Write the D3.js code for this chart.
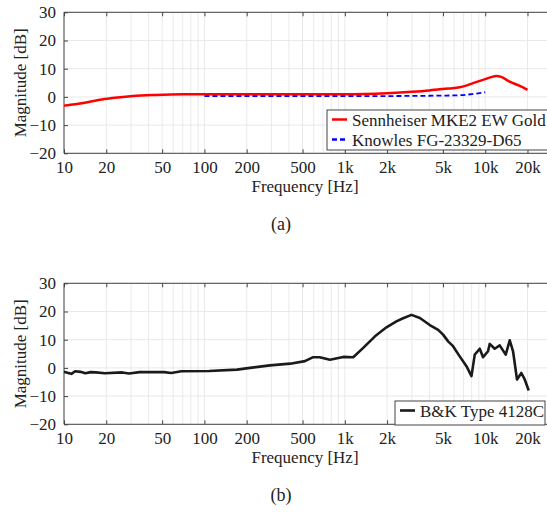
<!DOCTYPE html>
<html>
<head>
<meta charset="utf-8">
<script src="https://cdn.jsdelivr.net/npm/d3@7"></script>
<style>
  body { margin: 0; background: #fff; }
</style>
</head>
<body>
<div id="chart"></div>
<script>
// data
var senFreq = [10, 12, 15, 18, 22, 31, 45, 70, 100, 300, 1000, 2000, 3000, 4000, 4740, 5500, 6580, 7300, 8190, 10000, 11000, 12000, 13000, 14900, 17600, 20000];
var senMag  = [-3.1, -2.6, -1.8, -1.0, -0.4, 0.35, 0.7, 0.9, 0.9, 0.9, 0.9, 1.3, 1.8, 2.3, 2.7, 3.0, 3.4, 4.0, 4.9, 6.3, 7.0, 7.4, 7.1, 5.4, 3.9, 2.5];

var knoFreq = [100, 500, 1000, 2000, 3000, 4000, 4740, 6580, 8190, 10000];
var knoMag  = [0.3, 0.3, 0.3, 0.3, 0.35, 0.4, 0.45, 0.6, 1.05, 1.65];

var bkFreq = [10, 10.7, 11.3, 12, 13.1, 14.2, 15.5, 16.9, 19.5, 26, 29, 34.6, 51.7, 57.9, 68.6, 108, 171, 211, 293, 408,
  520, 595, 662, 783, 974, 1148, 1352, 1640, 1980, 2330, 2600, 2985, 3425, 4028, 4620, 5010, 5440, 5900, 6580, 7350,
  7980, 8420, 9140, 9650, 10470, 10760, 11680, 12680, 13990, 14950, 15780, 16840, 18080, 19110, 20400];
var bkMag = [-1.4, -1.8, -2.1, -1.2, -1.4, -1.9, -1.5, -1.6, -1.9, -1.6, -2.0, -1.5, -1.5, -1.8, -1.2, -1.1, -0.6, 0.0, 0.9, 1.5,
  2.4, 3.8, 3.8, 2.9, 3.9, 3.8, 7.1, 11.2, 14.4, 16.5, 17.6, 18.8, 17.7, 15.2, 13.5, 11.8, 9.4, 7.7, 4.1, 0.6,
  -2.9, 4.7, 6.8, 3.8, 5.9, 8.5, 6.8, 8.0, 4.7, 9.8, 5.9, -4.1, -1.8, -4.1, -8.0];

var xTicks = [10, 20, 50, 100, 200, 500, 1000, 2000, 5000, 10000, 20000];
var xTickLabels = ["10", "20", "50", "100", "200", "500", "1k", "2k", "5k", "10k", "20k"];
var yTicks = [-20, -10, 0, 10, 20, 30];

var serif = "Liberation Serif";
var svgWidth = 547;
var svgHeight = 512;

var svg = d3.select("#chart")
  .append("svg")
  .attr("width", svgWidth)
  .attr("height", svgHeight)
  .style("display", "block");

svg.append("rect").attr("width", svgWidth).attr("height", svgHeight).attr("fill", "#fff");

// shared x scale (log)
var xScale = d3.scaleLog()
  .domain([10, 20000])
  .range([64, 527.5]);
var plotLeft = 64;
var plotRight = 560;

// minor grid frequencies 10..90, 100..900, ...
var gridFreqs = [];
[10, 100, 1000, 10000].forEach(function(dec) {
  for (var k = 1; k <= 9; k++) gridFreqs.push(dec * k);
});

function drawPanel(top, series, legend, caption) {
  var bottom = top + 141;
  var yScale = d3.scaleLinear().domain([-20, 30]).range([bottom, top]);
  var g = svg.append("g");

  // grid
  g.selectAll(".vgrid").data(gridFreqs.filter(function(f) { return xScale(f) < plotRight; }))
    .enter().append("line")
    .attr("x1", d => xScale(d)).attr("x2", d => xScale(d))
    .attr("y1", top).attr("y2", bottom)
    .attr("stroke", "#e4e4e4").attr("stroke-width", 0.8);
  g.selectAll(".hgrid").data(yTicks)
    .enter().append("line")
    .attr("x1", plotLeft).attr("x2", plotRight)
    .attr("y1", d => yScale(d)).attr("y2", d => yScale(d))
    .attr("stroke", "#e4e4e4").attr("stroke-width", 0.8);

  // axes with inward ticks
  var bottomAxis = d3.axisBottom(xScale).tickValues(xTicks)
    .tickFormat((d, i) => xTickLabels[i]).tickSizeInner(-4).tickSizeOuter(0).tickPadding(8);
  var topAxis = d3.axisTop(xScale).tickValues(xTicks).tickFormat("").tickSizeInner(-4).tickSizeOuter(0);
  var leftAxis = d3.axisLeft(yScale).tickValues(yTicks).tickSizeInner(-4).tickSizeOuter(0).tickPadding(8);

  var xb = g.append("g").attr("transform", `translate(0, ${bottom})`).call(bottomAxis);
  var xt = g.append("g").attr("transform", `translate(0, ${top})`).call(topAxis);
  var yl = g.append("g").attr("transform", `translate(${plotLeft}, 0)`).call(leftAxis);

  [xb, xt, yl].forEach(function(ax) {
    ax.attr("font-family", serif);
    ax.select(".domain").remove();
    ax.selectAll("line").attr("stroke", "#444");
    ax.selectAll("text").attr("font-size", 17).attr("fill", "#222")
      .style("font-family", serif);
  });

  // box frame
  g.append("line").attr("x1", plotLeft).attr("x2", plotRight).attr("y1", top).attr("y2", top).attr("stroke", "#444");
  g.append("line").attr("x1", plotLeft).attr("x2", plotRight).attr("y1", bottom).attr("y2", bottom).attr("stroke", "#444");
  g.append("line").attr("x1", plotLeft).attr("x2", plotLeft).attr("y1", top).attr("y2", bottom).attr("stroke", "#444");

  // curves
  series.forEach(function(s) {
    var pts = s.freq.map((f, i) => [f, s.mag[i]]);
    var line = d3.line()
      .x(d => xScale(d[0]))
      .y(d => yScale(d[1]))
      .curve(s.smooth ? d3.curveMonotoneX : d3.curveLinear);
    g.append("path")
      .datum(pts)
      .attr("d", line)
      .attr("fill", "none")
      .attr("stroke", s.color)
      .attr("stroke-width", s.width)
      .attr("stroke-linejoin", "round")
      .attr("stroke-dasharray", s.dash || null);
  });

  // legend
  var lg = g.append("g");
  lg.append("rect")
    .attr("x", legend.x).attr("y", legend.y)
    .attr("width", legend.w).attr("height", legend.h)
    .attr("fill", "#fff").attr("stroke", "#444").attr("stroke-width", 1);
  legend.items.forEach(function(it, i) {
    var cy = legend.y + 9.5 + i * 20;
    lg.append("line")
      .attr("x1", legend.x + 5).attr("x2", legend.x + 20)
      .attr("y1", cy).attr("y2", cy)
      .attr("stroke", it.color).attr("stroke-width", it.width)
      .attr("stroke-dasharray", it.dash || null);
    lg.append("text")
      .attr("x", legend.x + 25).attr("y", cy + 6)
      .attr("font-size", 17)
      .attr("fill", "#222")
      .style("font-family", serif)
      .text(it.label);
  });

  // axis labels
  g.append("text")
    .attr("x", 305).attr("y", bottom + 39)
    .attr("text-anchor", "middle")
    .attr("font-size", 17)
    .attr("fill", "#222")
    .style("font-family", serif)
    .text("Frequency [Hz]");
  g.append("text")
    .attr("transform", `translate(26, ${(top + bottom) / 2}) rotate(-90)`)
    .attr("text-anchor", "middle")
    .attr("font-size", 17)
    .attr("fill", "#222")
    .style("font-family", serif)
    .text("Magnitude [dB]");

  // sub caption
  g.append("text")
    .attr("x", 281).attr("y", bottom + 77)
    .attr("text-anchor", "middle")
    .attr("font-size", 18)
    .attr("fill", "#222")
    .style("font-family", serif)
    .text(caption);
}

drawPanel(12.3, [
  { freq: senFreq, mag: senMag, color: "#ff0000", width: 2.5, smooth: true },
  { freq: knoFreq, mag: knoMag, color: "#0000ff", width: 1.8, dash: "5,3", smooth: true }
], {
  x: 327, y: 110, w: 240, h: 40,
  items: [
    { label: "Sennheiser MKE2 EW Gold", color: "#ff0000", width: 2.5 },
    { label: "Knowles FG-23329-D65", color: "#0000ff", width: 2.5, dash: "5,3" }
  ]
}, "(a)");

drawPanel(283.3, [
  { freq: bkFreq, mag: bkMag, color: "#1a1a1a", width: 2.6, smooth: false }
], {
  x: 395, y: 401, w: 150, h: 24,
  items: [
    { label: "B&K Type 4128C", color: "#1a1a1a", width: 2.6 }
  ]
}, "(b)");
</script>
</body>
</html>
